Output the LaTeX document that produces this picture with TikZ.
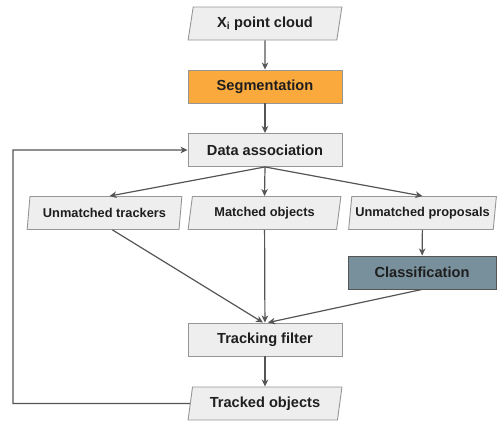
\documentclass[tikz,border=0pt]{standalone}
\usepackage{fontspec}
\setmainfont{Liberation Sans}
\usetikzlibrary{shapes.geometric, arrows.meta}

\definecolor{boxgray}{RGB}{238,238,238}
\definecolor{edgegray}{RGB}{150,150,150}
\definecolor{segorange}{RGB}{250,169,61}
\definecolor{clsblue}{RGB}{120,144,156}
\definecolor{flowgray}{RGB}{85,85,85}
\definecolor{textblack}{RGB}{30,30,30}

\tikzset{
  procbox/.style={draw=edgegray, fill=boxgray, line width=0.9pt, minimum width=154pt,
    minimum height=33pt, inner sep=0pt, text=textblack, font=\fontsize{14.6}{16}\selectfont\bfseries},
  databox/.style={procbox, trapezium, trapezium left angle=76, trapezium right angle=104,
    trapezium stretches=true},
  smalldata/.style={databox, font=\fontsize{12.8}{14}\selectfont\bfseries},
  flow/.style={draw=flowgray, line width=1.2pt, -{Stealth[length=7pt, width=6.5pt, inset=2pt]}},
}

\begin{document}
\begin{tikzpicture}[x=1pt, y=-1pt]
    \useasboundingbox (0,0) rectangle (497,423);
    \node[databox] (cloud) at (265,23.5) {X\textsubscript{i} point cloud};
    \node[procbox, fill=segorange] (seg) at (265,86.5) {Segmentation};
    \node[procbox] (assoc) at (265,150) {Data association};
    \node[smalldata, minimum width=155pt] (trackers) at (104.5,213) {Unmatched trackers};
    \node[smalldata, minimum width=153pt] (matched) at (264.5,213) {Matched objects};
    \node[smalldata, minimum width=148pt] (proposals) at (422.5,213) {Unmatched proposals};
    \node[procbox, fill=clsblue, draw=flowgray, minimum width=148pt] (cls) at (422,272.5) {Classification};
    \node[procbox] (filter) at (265,339.5) {Tracking filter};
    \node[databox] (tracked) at (265,403.5) {Tracked objects};
    \coordinate (loop) at (13,403.5);
    % main chain
    \draw[flow] (cloud) -- (seg);
    \draw[flow] (seg) -- (assoc);
    \draw[flow] (assoc.south) -- ([xshift=5pt]trackers.north);
    \draw[flow] (assoc.south) -- (matched.north);
    \draw[flow] (assoc.south) -- (proposals.north);
    \draw[flow] (proposals) -- (cls);
    \draw[flow] ([xshift=8pt]trackers.south) -- ([xshift=-2pt]filter.north);
    \draw[flow] (matched) -- (filter);
    \draw[flow] (cls.south) -- ([xshift=3pt]filter.north);
    \draw[flow] (filter) -- (tracked);
    % feedback
    \draw[flow] (tracked.west) -- (loop) |- (assoc.west);
\end{tikzpicture}
\end{document}
